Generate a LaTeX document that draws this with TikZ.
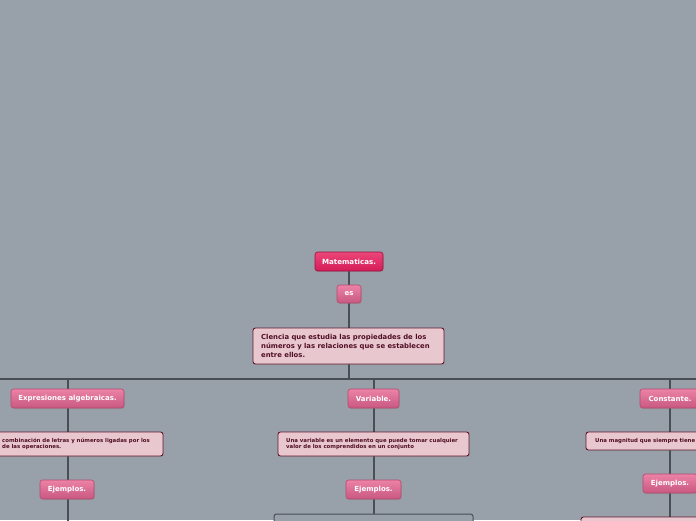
\documentclass[tikz,border=0pt]{standalone}
\usepackage{fontspec}
\setmainfont{DejaVu Sans}
\usetikzlibrary{shadows}
\definecolor{bg}{RGB}{152,161,169}
\definecolor{wire}{RGB}{72,78,84}
\definecolor{rootTop}{RGB}{236,70,122}
\definecolor{rootBot}{RGB}{212,28,88}
\definecolor{rootLine}{RGB}{150,20,60}
\definecolor{pinkTop}{RGB}{236,130,166}
\definecolor{pinkBot}{RGB}{200,88,128}
\definecolor{pinkLine}{RGB}{178,74,112}
\definecolor{noteFill}{RGB}{232,200,206}
\definecolor{noteLine}{RGB}{100,22,48}
\definecolor{noteText}{RGB}{80,14,36}
\tikzset{
  x=1pt,y=-1pt,
  wirestyle/.style={draw=wire,line width=1.4pt},
  rootbox/.style={rounded corners=2.5pt,draw=rootLine,line width=0.6pt,top color=rootTop,bottom color=rootBot,
    text=white,font=\bfseries\fontsize{7.1}{8}\selectfont,inner sep=0pt,
    drop shadow={opacity=0.25,shadow xshift=0.8pt,shadow yshift=-1pt}},
  pinkbox/.style={rounded corners=2.5pt,draw=pinkLine,line width=0.6pt,top color=pinkTop,bottom color=pinkBot,
    text=white,font=\bfseries\fontsize{7.0}{8}\selectfont,inner sep=0pt,
    drop shadow={opacity=0.25,shadow xshift=0.8pt,shadow yshift=-1pt}},
  notebox/.style={rounded corners=2.5pt,draw=noteLine,line width=0.9pt,fill=noteFill,inner sep=0pt,
    drop shadow={opacity=0.25,shadow xshift=0.8pt,shadow yshift=-1pt}},
  greybox/.style={rounded corners=2.5pt,draw=wire,line width=1pt,fill=bg,inner sep=0pt},
  bigtext/.style={text=noteText,font=\bfseries\fontsize{6.85}{8.6}\selectfont,align=left,inner sep=0pt,anchor=west},
  smalltext/.style={text=noteText,font=\bfseries\fontsize{5.4}{6.5}\selectfont,align=left,inner sep=0pt,anchor=west},
}
\begin{document}
\begin{tikzpicture}
\fill[bg] (0,0) rectangle (696,520);
\clip (0,0) rectangle (696,520);
\useasboundingbox (0,0) rectangle (696,520);

% coordinates of connector ends
\coordinate (hub) at (349,379);
\coordinate (hl) at (0,379);
\coordinate (hr) at (696,379);
\coordinate (cL) at (68,379);
\coordinate (cM) at (374,379);
\coordinate (cR) at (670,379);
\coordinate (eL) at (68,522);
\coordinate (eR) at (670,522);

% connectors (drawn first, under nodes)
\draw[wirestyle] (hl) -- (hr);
\draw[wirestyle] (349,261) -- (hub);
\draw[wirestyle] (cL) -- (eL);
\draw[wirestyle] (cM) -- (374,514);
\draw[wirestyle] (cR) -- (eR);

% nodes
\node[rootbox,minimum width=68,minimum height=19] (mat) at (349,261.5) {Matematicas.};
\node[pinkbox,minimum width=24,minimum height=18] (es) at (349,294) {es};
\node[notebox,minimum width=191,minimum height=36] (cien) at (348.5,346) {};
\node[bigtext] (cientext) at (261,346) {Clencia que estudia las propiedades de los\\números y las relaciones que se establecen\\entre ellos.};

\node[pinkbox,minimum width=113,minimum height=19] (expr) at (67.5,398.5) {Expresiones algebraicas.};
\node[notebox,minimum width=191,minimum height=24] (exbox) at (67.5,444) {};
\node[smalltext] (extext) at (2,444) {combinación de letras y números ligadas por los\\de las operaciones.};
\node[pinkbox,minimum width=54,minimum height=19] (ejL) at (67,489.5) {Ejemplos.};

\node[pinkbox,minimum width=51,minimum height=19] (var) at (373.5,398.5) {Variable.};
\node[notebox,minimum width=191,minimum height=24] (varbox) at (373.5,444) {};
\node[smalltext] (vartext) at (286,444) {Una variable es un elemento que puede tomar cualquier\\valor de los comprendidos en un conjunto};
\node[pinkbox,minimum width=55,minimum height=19] (ejM) at (373.5,489.5) {Ejemplos.};
\node[greybox,minimum width=199,minimum height=30] (exM) at (373.5,529) {};

\node[pinkbox,minimum width=60,minimum height=19] (cons) at (670,398.5) {Constante.};
\node[notebox,minimum width=168,minimum height=18] (consbox) at (670,441) {};
\node[smalltext] (constext) at (595,441) {Una magnitud que siempre tiene};
\node[pinkbox,minimum width=54,minimum height=19] (ejR) at (670,483.5) {Ejemplos.};
\node[notebox,minimum width=178,minimum height=30] (exR) at (670,532) {};
\end{tikzpicture}
\end{document}
